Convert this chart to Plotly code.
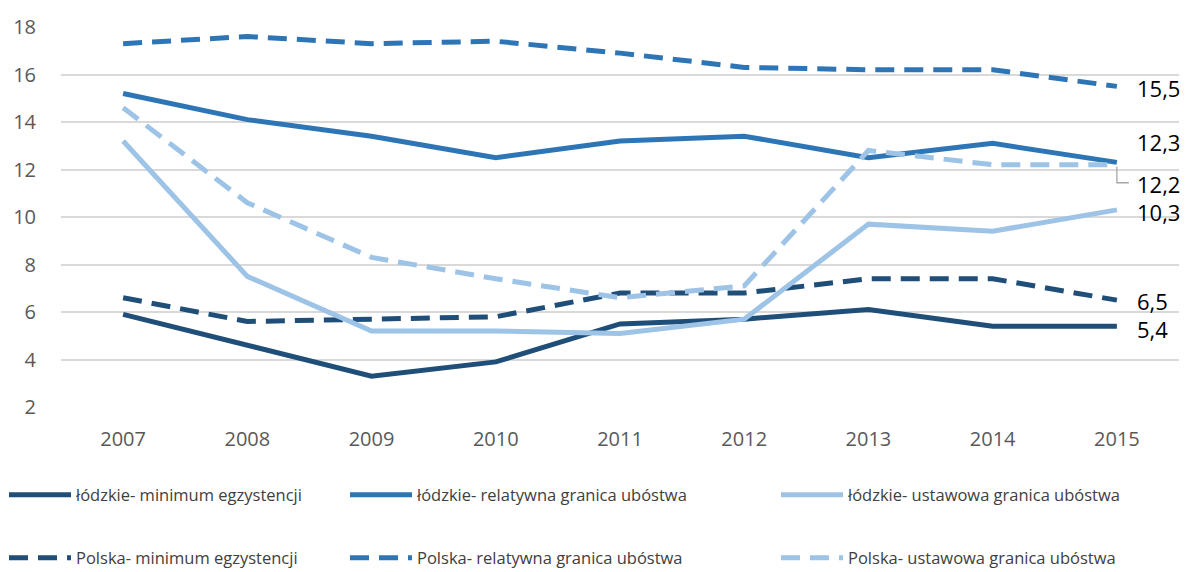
import plotly.graph_objects as go

years = ["2007", "2008", "2009", "2010", "2011", "2012", "2013", "2014", "2015"]

lodz_min = [5.9, 4.6, 3.3, 3.9, 5.5, 5.7, 6.1, 5.4, 5.4]
lodz_rel = [15.2, 14.1, 13.4, 12.5, 13.2, 13.4, 12.5, 13.1, 12.3]
lodz_ust = [13.2, 7.5, 5.2, 5.2, 5.1, 5.7, 9.7, 9.4, 10.3]
pol_min = [6.6, 5.6, 5.7, 5.8, 6.8, 6.8, 7.4, 7.4, 6.5]
pol_rel = [17.3, 17.6, 17.3, 17.4, 16.9, 16.3, 16.2, 16.2, 15.5]
pol_ust = [14.6, 10.6, 8.3, 7.4, 6.6, 7.1, 12.8, 12.2, 12.2]

names = [
    "łódzkie- minimum egzystencji",
    "łódzkie- relatywna granica ubóstwa",
    "łódzkie- ustawowa granica ubóstwa",
    "Polska- minimum egzystencji",
    "Polska- relatywna granica ubóstwa",
    "Polska- ustawowa granica ubóstwa",
]
series = [lodz_min, lodz_rel, lodz_ust, pol_min, pol_rel, pol_ust]
colors = ["#1F4E79", "#2E75B6", "#9DC3E6", "#1F4E79", "#2E75B6", "#9DC3E6"]
dashes = ["solid", "solid", "solid", "19px,10px", "19px,10px", "19px,10px"]
legend_ids = ["legend", "legend2", "legend3", "legend4", "legend5", "legend6"]
# legend positions (container fractions)
leg_x = [4 / 1200, 345 / 1200, 776 / 1200, 4 / 1200, 345 / 1200, 776 / 1200]
leg_y = [(572 - 495) / 572] * 3 + [(572 - 558) / 572] * 3

fig = go.Figure()
order = [0, 3, 1, 4, 2, 5]
for i in order:
    fig.add_trace(go.Scatter(
        x=years, y=series[i], name=names[i], mode="lines",
        line=dict(color=colors[i], width=5, dash=dashes[i]),
        legend=legend_ids[i],
    ))

last = len(years) - 1
# end labels: (series index, y pixel shift)
label_shifts = [(4, -2), (1, 20), (5, -19), (2, -2), (3, -1), (0, -3)]
for i, dy in label_shifts:
    v = series[i][-1]
    txt = f"{v:.1f}".replace(".", ",")
    fig.add_annotation(x=last, y=v, text=txt, xref="x", yref="y",
                       showarrow=False, xanchor="left", yanchor="middle",
                       xshift=19, yshift=dy, borderpad=0,
                       font=dict(size=22, color="#000000", family="Open Sans"))

# leader line for the 12,2 label
fig.add_shape(type="path", xref="x", yref="y", xsizemode="pixel", ysizemode="pixel",
              xanchor=last, yanchor=pol_ust[-1],
              path="M0,-2 L0,-18 L12,-18",
              line=dict(color="#A6A6A6", width=1.3))

legend_common = dict(
    orientation="h", xanchor="left", yanchor="middle",
    xref="container", yref="container",
    font=dict(size=16.5, color="#404040", family="Open Sans"),
    bgcolor="rgba(0,0,0,0)", itemwidth=62, borderwidth=0,
)
legend_layout = {}
for k, lid in enumerate(legend_ids):
    legend_layout[lid] = dict(x=leg_x[k], y=leg_y[k], **legend_common)

fig.update_layout(
    width=1200, height=572,
    margin=dict(l=61, r=21, t=27, b=165, autoexpand=False),
    plot_bgcolor="white", paper_bgcolor="white",
    font=dict(family="Open Sans", color="#595959"),
    showlegend=True,
    xaxis=dict(
        type="category", range=[-0.5, last + 0.5], showgrid=False, zeroline=False,
        showline=False, tickfont=dict(size=20, color="#595959"), ticks="outside",
        ticklen=14, tickcolor="rgba(0,0,0,0)",
    ),
    yaxis=dict(
        range=[2, 18], dtick=2, showgrid=True, gridcolor="#D9D9D9", gridwidth=1.5,
        zeroline=False, showline=False,
        tickfont=dict(size=20, color="#595959"), ticks="outside",
        ticklen=20, tickcolor="rgba(0,0,0,0)",
    ),
    **legend_layout,
)

fig.write_html("out.html", config={"displayModeBar": False},
               post_script="document.body.style.margin='0';document.body.style.overflow='hidden';")
